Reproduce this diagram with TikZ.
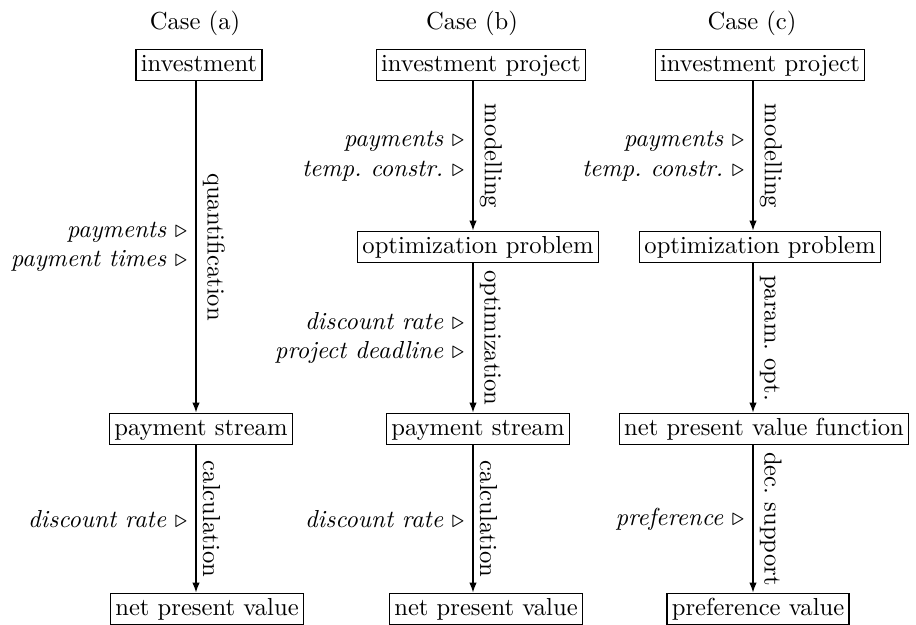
\documentclass[tikz,border=0pt]{standalone}
\usetikzlibrary{arrows.meta}
\begin{document}
\begin{tikzpicture}[x=0.4065pt, y=-0.4065pt,
  box/.style={draw, line width=0.5pt, inner sep=2pt, text height=6.94pt, text depth=1.94pt},
  title/.style={inner sep=0pt},
  arr/.style={draw, line width=0.5pt, -{Latex[length=4pt,width=3pt]}},
  lbl/.style={midway, rotate=-90, anchor=south, inner sep=2.5pt},
  inp/.style={midway, anchor=east, align=right, font=\itshape, inner sep=3.3pt}]
\useasboundingbox (0,0) rectangle (916,625);
% column axes
\coordinate (colA) at (196,0);
\coordinate (colB) at (473,0);
\coordinate (colC) at (753,0);
% titles
\node[title] (ta) at (195,23) {Case (a)};
\node[title] (tb) at (472,23) {Case (b)};
\node[title] (tc) at (752,23) {Case (c)};
% case (a)
\node[box] (a1) at (199,65) {investment};
\node[box] (a3) at (201,429) {payment stream};
\node[box] (a4) at (207,609) {net present value};
% case (b)
\node[box] (b1) at (481,65) {investment project};
\node[box] (b2) at (478,247) {optimization problem};
\node[box] (b3) at (478,429) {payment stream};
\node[box] (b4) at (486,609) {net present value};
% case (c)
\node[box] (c1) at (760,65) {investment project};
\node[box] (c2) at (760,247) {optimization problem};
\node[box] (c3) at (764,429) {net present value function};
\node[box] (c4) at (758,609) {preference value};
% connectors case (a)
\draw[arr] (a1.south -| colA) -- (a3.north -| colA)
  node[lbl] {quantification}
  node[inp] {payments $\triangleright$\\ payment times $\triangleright$};
\draw[arr] (a3.south -| colA) -- (a4.north -| colA)
  node[lbl] {calculation}
  node[inp] {discount rate $\triangleright$};
% connectors case (b)
\draw[arr] (b1.south -| colB) -- (b2.north -| colB)
  node[lbl] {modelling}
  node[inp] {payments $\triangleright$\\ temp.\ constr.\ $\triangleright$};
\draw[arr] (b2.south -| colB) -- (b3.north -| colB)
  node[lbl] {optimization}
  node[inp] {discount rate $\triangleright$\\ project deadline $\triangleright$};
\draw[arr] (b3.south -| colB) -- (b4.north -| colB)
  node[lbl] {calculation}
  node[inp] {discount rate $\triangleright$};
% connectors case (c)
\draw[arr] (c1.south -| colC) -- (c2.north -| colC)
  node[lbl] {modelling}
  node[inp] {payments $\triangleright$\\ temp.\ constr.\ $\triangleright$};
\draw[arr] (c2.south -| colC) -- (c3.north -| colC)
  node[lbl] {param.\ opt.};
\draw[arr] (c3.south -| colC) -- (c4.north -| colC)
  node[lbl] {dec.\ support}
  node[inp] {preference $\triangleright$};
\end{tikzpicture}
\end{document}
